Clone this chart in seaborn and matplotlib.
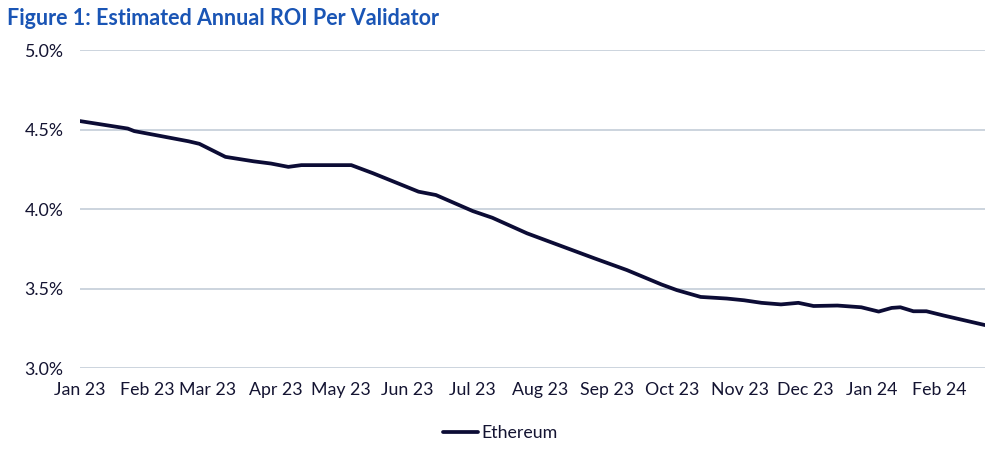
import pandas as pd
import matplotlib
matplotlib.use("Agg")
import matplotlib.pyplot as plt
import matplotlib.dates as mdates
from matplotlib.ticker import FuncFormatter, MultipleLocator
import seaborn as sns

# values (annual ROI in %)
dates = [
    "2023-01-01", "2023-01-23", "2023-01-26", "2023-02-06", "2023-02-20",
    "2023-02-25", "2023-03-09", "2023-03-22", "2023-03-30", "2023-04-07",
    "2023-04-13", "2023-05-06", "2023-05-16", "2023-06-06", "2023-06-14",
    "2023-07-01", "2023-07-10", "2023-07-26", "2023-08-10", "2023-08-26",
    "2023-09-10", "2023-09-26", "2023-10-03", "2023-10-14", "2023-10-26",
    "2023-11-03", "2023-11-11", "2023-11-20", "2023-11-28", "2023-12-05",
    "2023-12-16", "2023-12-27", "2024-01-04", "2024-01-10", "2024-01-14",
    "2024-01-20", "2024-01-26", "2024-02-03", "2024-02-22",
]
roi = [
    4.553, 4.506, 4.490, 4.462, 4.426,
    4.410, 4.328, 4.300, 4.286, 4.265,
    4.276, 4.276, 4.225, 4.109, 4.088,
    3.987, 3.945, 3.847, 3.771, 3.690,
    3.616, 3.525, 3.490, 3.447, 3.437,
    3.426, 3.410, 3.400, 3.410, 3.390,
    3.393, 3.382, 3.355, 3.378, 3.382,
    3.357, 3.357, 3.330, 3.270,
]
series_name = "Ethereum"
title = "Figure 1: Estimated Annual ROI Per Validator"

df = pd.DataFrame({"date": pd.to_datetime(dates), "roi": roi, "series": series_name})

sns.set_style("white")
plt.rcParams["font.family"] = ["Lato", "DejaVu Sans"]

fig = plt.figure(figsize=(10, 4.53), dpi=100)
ax = fig.add_axes([0.08, 0.1876, 0.905, 0.702])

sns.lineplot(data=df, x="date", y="roi", hue="series", palette=["#0c0c35"],
             linewidth=2.7, ax=ax, legend=True)

ax.set_ylim(3.0, 5.0)
ax.set_xlim(pd.Timestamp("2023-01-01"), pd.Timestamp("2024-02-22"))
ax.yaxis.set_major_locator(MultipleLocator(0.5))
ax.yaxis.set_major_formatter(FuncFormatter(lambda v, _: f"{v:.1f}%"))
ax.xaxis.set_major_locator(mdates.MonthLocator())
ax.xaxis.set_major_formatter(mdates.DateFormatter("%b %y"))
ax.grid(axis="y", color="#c3cdd8", linewidth=1.2)
ax.grid(axis="x", visible=False)
for s in ax.spines.values():
    s.set_visible(False)
ax.tick_params(axis="both", length=0, labelsize=12.8, colors="#141432")
ax.tick_params(axis="x", pad=10)
ax.tick_params(axis="y", pad=12)
ax.set_xlabel("")
ax.set_ylabel("")

handles, labels = ax.get_legend_handles_labels()
ax.legend(handles, labels, loc="center", bbox_to_anchor=(0.5, 0.044),
          bbox_transform=fig.transFigure, frameon=False, fontsize=12.8,
          handlelength=2.0, handletextpad=0.15, labelcolor="#141432")

fig.text(0.007, 0.96, title, fontsize=15.5, fontweight="bold",
         color="#1a55b5", va="center", ha="left")

fig.savefig("out.png", dpi=100)
